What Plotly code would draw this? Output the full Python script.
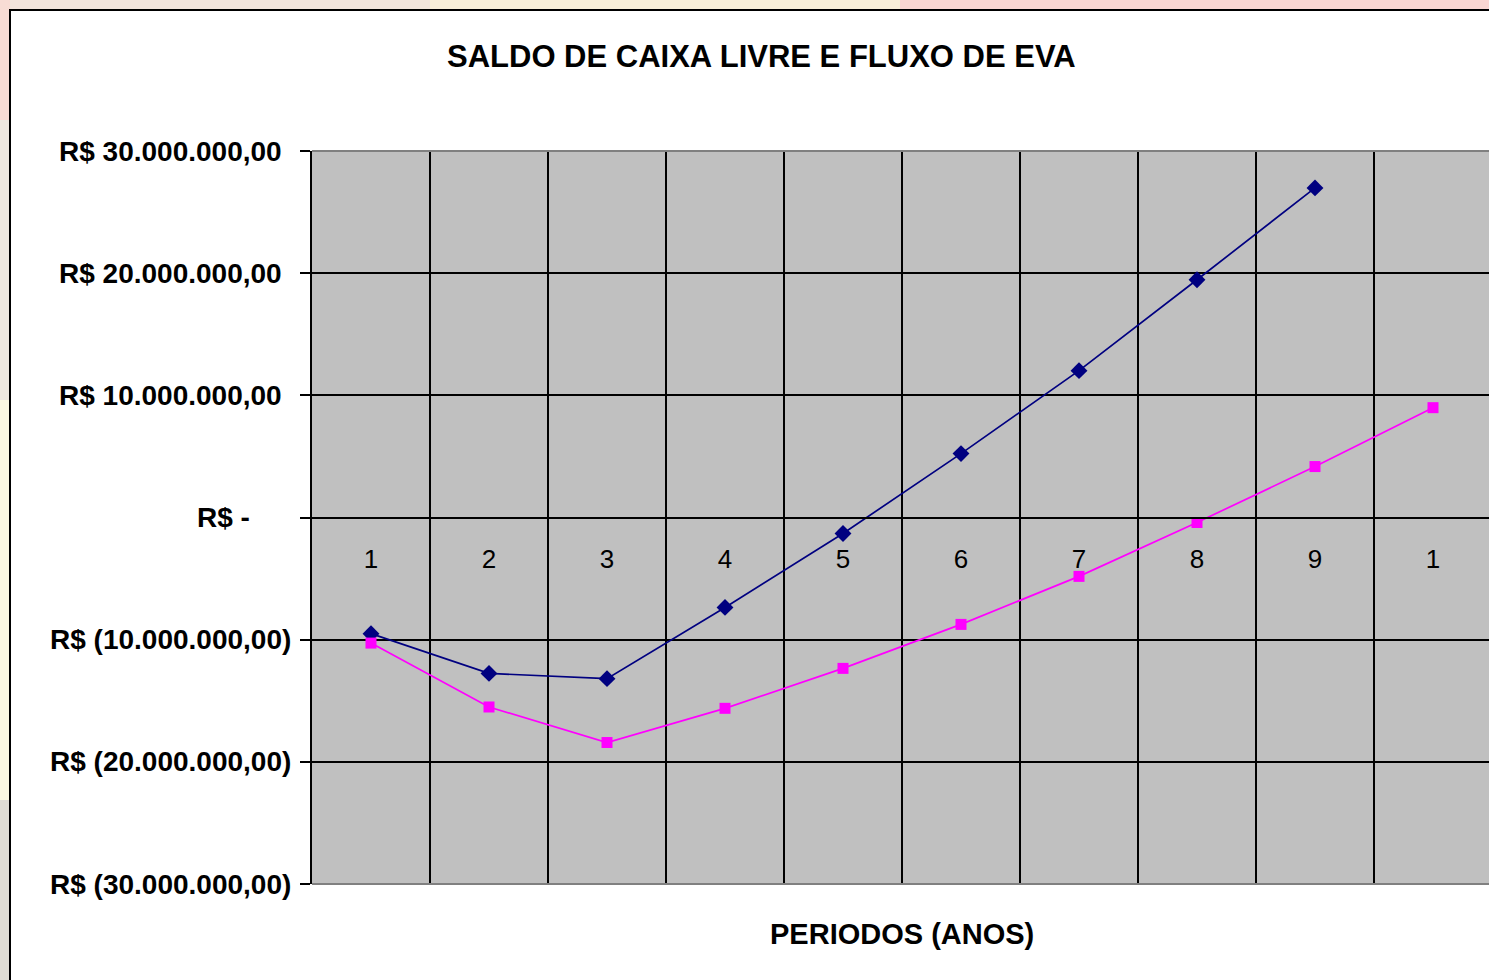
import plotly.graph_objects as go

# chart data
periodos = [1, 2, 3, 4, 5, 6, 7, 8, 9, 10]
rotulos_periodo = ["1", "2", "3", "4", "5", "6", "7", "8", "9", "1"]
saldo_caixa = [-9.51e6, -12.76e6, -13.19e6, -7.36e6, -1.31e6, 5.23e6, 12.02e6, 19.46e6, 26.98e6]
fluxo_eva = [-10.28e6, -15.51e6, -18.42e6, -15.62e6, -12.35e6, -8.75e6, -4.82e6, -0.41e6, 4.17e6, 8.99e6]
y_ticks = [30e6, 20e6, 10e6, 0, -10e6, -20e6, -30e6]
y_labels = ["R$ 30.000.000,00", "R$ 20.000.000,00", "R$ 10.000.000,00", "R$ -",
            "R$ (10.000.000,00)", "R$ (20.000.000,00)", "R$ (30.000.000,00)"]

W, H = 1489, 980
L, R, T, B = 312, 0, 151, 96
PW, PH = W - L - R, H - T - B


def px_x(p):
    return (p - L) / PW


def px_y(p):
    return (H - B - p) / PH


FONT = "Liberation Sans, Arial, sans-serif"

fig = go.Figure()
fig.add_trace(go.Scatter(x=periodos[:len(saldo_caixa)], y=saldo_caixa, mode="lines+markers",
                         line=dict(color="#000080", width=1.7),
                         marker=dict(symbol="diamond", size=13, color="#000080"),
                         name="Saldo de caixa livre", cliponaxis=False))
fig.add_trace(go.Scatter(x=periodos, y=fluxo_eva, mode="lines+markers",
                         line=dict(color="#FF00FF", width=1.7),
                         marker=dict(symbol="square", size=11, color="#FF00FF"),
                         name="Fluxo de EVA", cliponaxis=False))

shapes = [
    # background strips (blurred slide picture behind the chart)
    dict(type="rect", xref="paper", yref="paper", x0=px_x(0), x1=px_x(430), y0=px_y(0), y1=px_y(10),
         fillcolor="#f1e4dc", line_width=0, layer="below"),
    dict(type="rect", xref="paper", yref="paper", x0=px_x(430), x1=px_x(900), y0=px_y(0), y1=px_y(10),
         fillcolor="#f8efd9", line_width=0, layer="below"),
    dict(type="rect", xref="paper", yref="paper", x0=px_x(900), x1=px_x(1489), y0=px_y(0), y1=px_y(10),
         fillcolor="#fad6d2", line_width=0, layer="below"),
    dict(type="rect", xref="paper", yref="paper", x0=px_x(0), x1=px_x(10), y0=px_y(0), y1=px_y(120),
         fillcolor="#f8dcd4", line_width=0, layer="below"),
    dict(type="rect", xref="paper", yref="paper", x0=px_x(0), x1=px_x(10), y0=px_y(120), y1=px_y(400),
         fillcolor="#eee8e0", line_width=0, layer="below"),
    dict(type="rect", xref="paper", yref="paper", x0=px_x(0), x1=px_x(10), y0=px_y(400), y1=px_y(800),
         fillcolor="#fbf8e2", line_width=0, layer="below"),
    dict(type="rect", xref="paper", yref="paper", x0=px_x(0), x1=px_x(10), y0=px_y(800), y1=px_y(980),
         fillcolor="#e0ddd4", line_width=0, layer="below"),
    # chart frame
    dict(type="rect", xref="paper", yref="paper", x0=px_x(10), x1=px_x(1520), y0=px_y(10), y1=px_y(1010),
         fillcolor="white", line=dict(color="black", width=2), layer="below"),
    # plot area
    dict(type="rect", xref="x domain", yref="y domain", x0=0, x1=1.1, y0=0, y1=1,
         fillcolor="#C0C0C0", line_width=0, layer="below"),
    # plot area border top / bottom
    dict(type="line", xref="paper", yref="y domain", x0=0, x1=1, y0=1, y1=1,
         line=dict(color="#808080", width=2), layer="above"),
    dict(type="line", xref="paper", yref="y domain", x0=0, x1=1, y0=0, y1=0,
         line=dict(color="#808080", width=2), layer="above"),
]

annotations = [
    dict(text="<b>SALDO DE CAIXA LIVRE E FLUXO DE EVA</b>", xref="paper", yref="paper",
         x=px_x(761), y=px_y(56), xanchor="center", yanchor="middle", showarrow=False,
         font=dict(size=31, color="black", family=FONT)),
    dict(text="<b>PERIODOS (ANOS)</b>", xref="paper", yref="paper",
         x=px_x(902), y=px_y(934), xanchor="center", yanchor="middle", showarrow=False,
         font=dict(size=29, color="black", family=FONT)),
]
for v, lab in zip(y_ticks, y_labels):
    if v > 0:
        shift = -28
    elif v == 0:
        shift = -60
    else:
        shift = -19
    annotations.append(dict(text="<b>" + lab + "</b>", xref="paper", yref="y", x=0, y=v,
                            xanchor="right", yanchor="middle", xshift=shift, showarrow=False,
                            font=dict(size=28, color="black", family=FONT)))

fig.update_layout(
    width=W, height=H,
    margin=dict(l=L, r=R, t=T, b=B, pad=0),
    paper_bgcolor="#f6eee2",
    plot_bgcolor="rgba(0,0,0,0)",
    showlegend=False,
    shapes=shapes,
    annotations=annotations,
    font=dict(family=FONT, color="black"),
    xaxis=dict(range=[0.5, 0.5 + PW / 118], tickvals=periodos, ticktext=rotulos_periodo,
               showgrid=False, zeroline=False, anchor="free", position=0.5,
               showline=True, linecolor="black", linewidth=1.5,
               ticks="outside", ticklen=19, tickcolor="rgba(0,0,0,0)",
               tickfont=dict(size=26, color="black", family=FONT),
               minor=dict(tickvals=[p - 0.5 for p in periodos] + [10.5], showgrid=True,
                          gridcolor="black", gridwidth=1.5, ticks="")),
    yaxis=dict(range=[-30e6, 30e6], tickvals=y_ticks, showticklabels=False,
               showgrid=True, gridcolor="black", gridwidth=1.5,
               zeroline=True, zerolinecolor="black", zerolinewidth=1.5,
               showline=True, linecolor="black", linewidth=1.5,
               ticks="outside", ticklen=10, tickcolor="black", tickwidth=1.5),
)

fig.write_html("out.html", config={"displayModeBar": False},
               post_script="document.body.style.margin='0';")
